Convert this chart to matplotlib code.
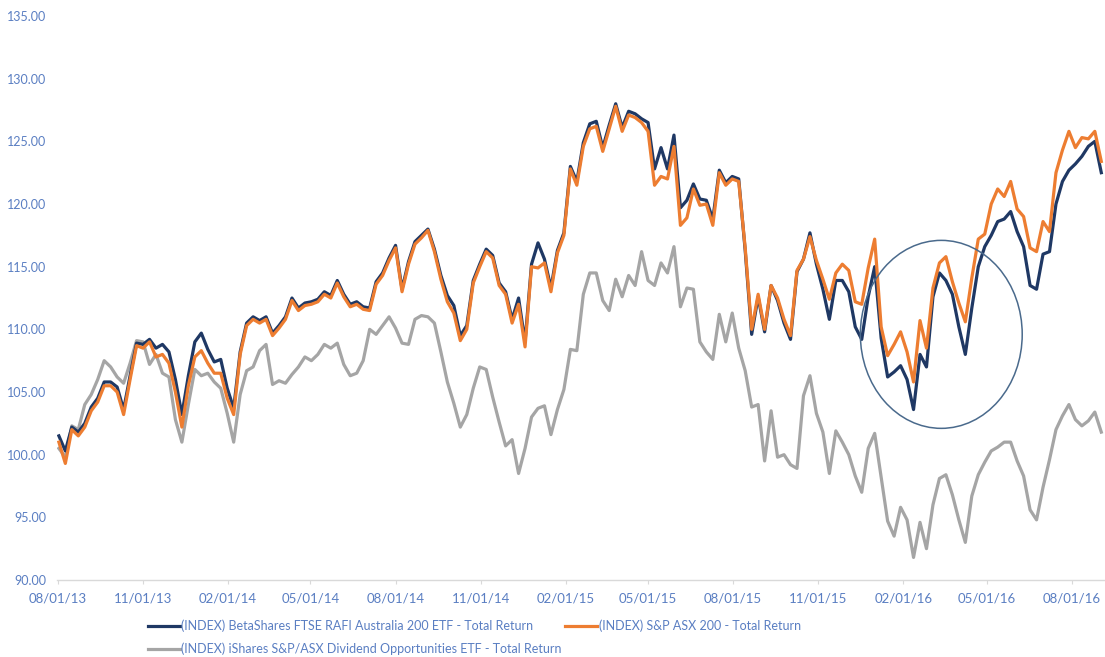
import pandas as pd
import numpy as np
import matplotlib
matplotlib.use("Agg")
import matplotlib.pyplot as plt
import matplotlib.dates as mdates
from matplotlib.patches import Ellipse

plt.rcParams["font.family"] = ["Lato", "DejaVu Sans"]

# weekly closes, rebased to 100 at 1 Aug 2013
weeks = pd.date_range("2013-08-02", periods=162, freq="7D")

rafi = [
    101.5, 100.3, 102.2, 101.8, 102.5, 103.8, 104.5, 105.8, 105.8, 105.4, 103.6, 106.3, 108.9,
    108.8, 109.2, 108.5, 108.8, 108.2, 106.0, 103.2, 106.3, 109.0, 109.7, 108.4, 107.4, 107.6,
    105.3, 103.7, 108.2, 110.5, 111.0, 110.7, 111.0, 109.7, 110.3, 111.0, 112.5, 111.7, 112.1,
    112.2, 112.4, 113.0, 112.7, 113.9, 112.8, 112.0, 112.2, 111.8, 111.7, 113.8, 114.5, 115.7,
    116.7, 113.2, 115.4, 117.0, 117.5, 118.0, 116.4, 114.3, 112.7, 111.9, 109.5, 110.3, 113.9,
    115.2, 116.4, 115.9, 113.7, 113.0, 110.8, 112.5, 109.0, 115.2, 116.9, 115.6, 113.3, 116.3,
    117.7, 123.0, 121.8, 124.9, 126.4, 126.6, 124.5, 126.3, 128.0, 126.1, 127.4, 127.2, 126.8,
    126.5, 122.8, 124.5, 122.8, 125.5, 119.7, 120.3, 121.6, 120.4, 120.3, 118.8, 122.7, 121.7,
    122.2, 122.0, 116.3, 109.6, 112.6, 109.8, 113.5, 112.3, 110.5, 109.2, 114.6, 115.6, 117.7,
    115.2, 113.2, 110.8, 113.9, 113.9, 113.0, 110.2, 109.2, 112.6, 115.0, 109.3, 106.2, 106.6,
    107.1, 106.0, 103.6, 108.0, 107.0, 112.6, 114.5, 113.9, 112.8, 110.2, 108.0, 111.7, 115.0,
    116.6, 117.5, 118.6, 118.8, 119.4, 117.8, 116.6, 113.5, 113.2, 116.0, 116.2, 120.0, 121.8,
    122.7, 123.2, 123.8, 124.6, 125.0, 122.5,
]

asx200 = [
    101.0, 99.3, 102.0, 101.5, 102.2, 103.5, 104.2, 105.5, 105.5, 105.0, 103.2, 106.0, 108.7,
    108.5, 109.0, 107.8, 108.0, 107.3, 105.0, 102.2, 105.5, 107.8, 108.3, 107.3, 106.5, 106.5,
    104.5, 103.2, 108.0, 110.3, 110.8, 110.5, 110.8, 109.5, 110.1, 110.8, 112.3, 111.5, 111.9,
    112.0, 112.2, 112.8, 112.5, 113.7, 112.6, 111.8, 112.0, 111.6, 111.5, 113.6, 114.3, 115.5,
    116.5, 113.0, 115.2, 116.8, 117.3, 117.9, 116.2, 114.0, 112.2, 111.3, 109.1, 110.0, 113.7,
    115.0, 116.2, 115.7, 113.5, 112.8, 110.5, 112.0, 108.6, 115.0, 114.9, 115.3, 113.0, 116.1,
    117.5, 122.8, 121.5, 124.6, 126.0, 126.2, 124.2, 126.0, 127.8, 125.8, 127.1, 126.9, 126.5,
    125.8, 121.5, 122.2, 122.0, 124.6, 118.3, 118.9, 121.2, 119.9, 120.0, 118.3, 122.5, 121.5,
    122.0, 121.8, 116.5, 110.0, 112.8, 110.0, 113.5, 112.5, 110.8, 109.5, 114.7, 115.6, 117.4,
    115.5, 114.0, 112.4, 114.5, 115.2, 114.7, 112.2, 112.0, 114.9, 117.2, 110.2, 107.9, 108.8,
    109.8, 108.2, 105.8, 110.7, 108.5, 113.3, 115.3, 115.8, 113.8, 112.1, 110.6, 114.1, 117.2,
    117.6, 120.0, 121.2, 120.6, 121.8, 119.6, 119.0, 116.5, 116.2, 118.6, 117.8, 122.5, 124.3,
    125.8, 124.5, 125.3, 125.2, 125.8, 123.4,
]

ishares_div = [
    100.5, 99.8, 102.3, 102.0, 104.0, 104.8, 106.0, 107.5, 107.0, 106.2, 105.7, 107.3, 109.1,
    109.0, 107.2, 108.0, 106.5, 106.2, 102.8, 101.0, 104.0, 106.8, 106.3, 106.5, 105.8, 105.3,
    103.3, 101.0, 104.8, 106.7, 107.0, 108.3, 108.8, 105.6, 105.9, 105.7, 106.4, 107.0, 107.8,
    107.5, 108.0, 108.8, 108.5, 108.9, 107.2, 106.3, 106.5, 107.5, 110.0, 109.6, 110.3, 111.0,
    110.1, 108.9, 108.8, 110.8, 111.1, 111.0, 110.5, 108.2, 105.8, 104.1, 102.2, 103.2, 105.3,
    107.0, 106.8, 104.6, 102.6, 100.7, 101.2, 98.5, 100.5, 103.0, 103.7, 103.9, 101.6, 103.6,
    105.2, 108.4, 108.3, 112.8, 114.5, 114.5, 112.3, 111.5, 114.0, 112.6, 114.3, 113.5, 116.2,
    113.9, 113.5, 115.3, 114.5, 116.6, 111.8, 113.3, 113.2, 109.0, 108.2, 107.6, 111.2, 109.0,
    111.3, 108.5, 106.7, 103.8, 104.0, 99.5, 103.5, 99.8, 100.0, 99.2, 98.9, 104.7, 106.3,
    103.3, 101.8, 98.5, 101.9, 101.0, 100.0, 98.3, 97.0, 100.5, 101.7, 98.2, 94.7, 93.5,
    95.8, 94.8, 91.8, 94.6, 92.5, 96.0, 98.1, 98.4, 96.8, 94.8, 93.0, 96.7, 98.4,
    99.4, 100.3, 100.6, 101.0, 101.0, 99.5, 98.3, 95.6, 94.8, 97.4, 99.6, 102.0, 103.1,
    104.0, 102.8, 102.3, 102.7, 103.4, 101.8,
]

labels = [
    "(INDEX) BetaShares FTSE RAFI Australia 200 ETF - Total Return",
    "(INDEX) S&P ASX 200 - Total Return",
    "(INDEX) iShares S&P/ASX Dividend Opportunities ETF - Total Return",
]
navy, orange, grey = "#1f3864", "#ed7d31", "#a5a5a5"
text_blue = "#5a7ec2"

fig = plt.figure(figsize=(11.05, 6.57), dpi=100)
ax = fig.add_axes([0.0516, 0.1172, 0.9484, 0.8584])

l_grey, = ax.plot(weeks, ishares_div, color=grey, lw=2.3, label=labels[2], zorder=2)
l_navy, = ax.plot(weeks, rafi, color=navy, lw=2.3, label=labels[0], zorder=3)
l_orange, = ax.plot(weeks, asx200, color=orange, lw=2.3, label=labels[1], zorder=4)

ax.set_ylim(90, 135)
ax.set_yticks(np.arange(90, 136, 5))
ax.yaxis.set_major_formatter(matplotlib.ticker.FormatStrFormatter("%.2f"))
ax.set_xlim(pd.Timestamp("2013-07-31"), pd.Timestamp("2016-09-06"))
ax.xaxis.set_major_locator(mdates.MonthLocator(bymonth=[2, 5, 8, 11], bymonthday=1))
ax.xaxis.set_major_formatter(mdates.DateFormatter("%m/%d/%y"))

for side in ["top", "right", "left"]:
    ax.spines[side].set_visible(False)
ax.spines["bottom"].set_color("#d9d9d9")
ax.spines["bottom"].set_linewidth(1.0)

ax.tick_params(axis="y", length=0, pad=8, labelsize=9, labelcolor=text_blue)
ax.tick_params(axis="x", length=3, color="#d9d9d9", pad=6, labelsize=9.5,
               labelcolor=text_blue)

# highlight the early-2016 divergence between the two indices
centre = mdates.date2num(pd.Timestamp("2016-03-13"))
ring = Ellipse((centre, 109.6), width=175, height=15.0, fill=False,
               edgecolor="#4a6a8c", lw=1.1, zorder=5)
ax.add_patch(ring)

leg = fig.legend(
    [l_navy, l_grey, l_orange],
    [labels[0], labels[2], labels[1]],
    ncol=2,
    loc="upper left",
    bbox_to_anchor=(0.134, 0.057),
    frameon=False,
    fontsize=9,
    handlelength=2.55,
    handletextpad=0.1,
    columnspacing=0.3,
    labelspacing=0.85,
    borderaxespad=0,
    borderpad=0,
)
for t in leg.get_texts():
    t.set_color(text_blue)

fig.savefig("out.png", dpi=100)
